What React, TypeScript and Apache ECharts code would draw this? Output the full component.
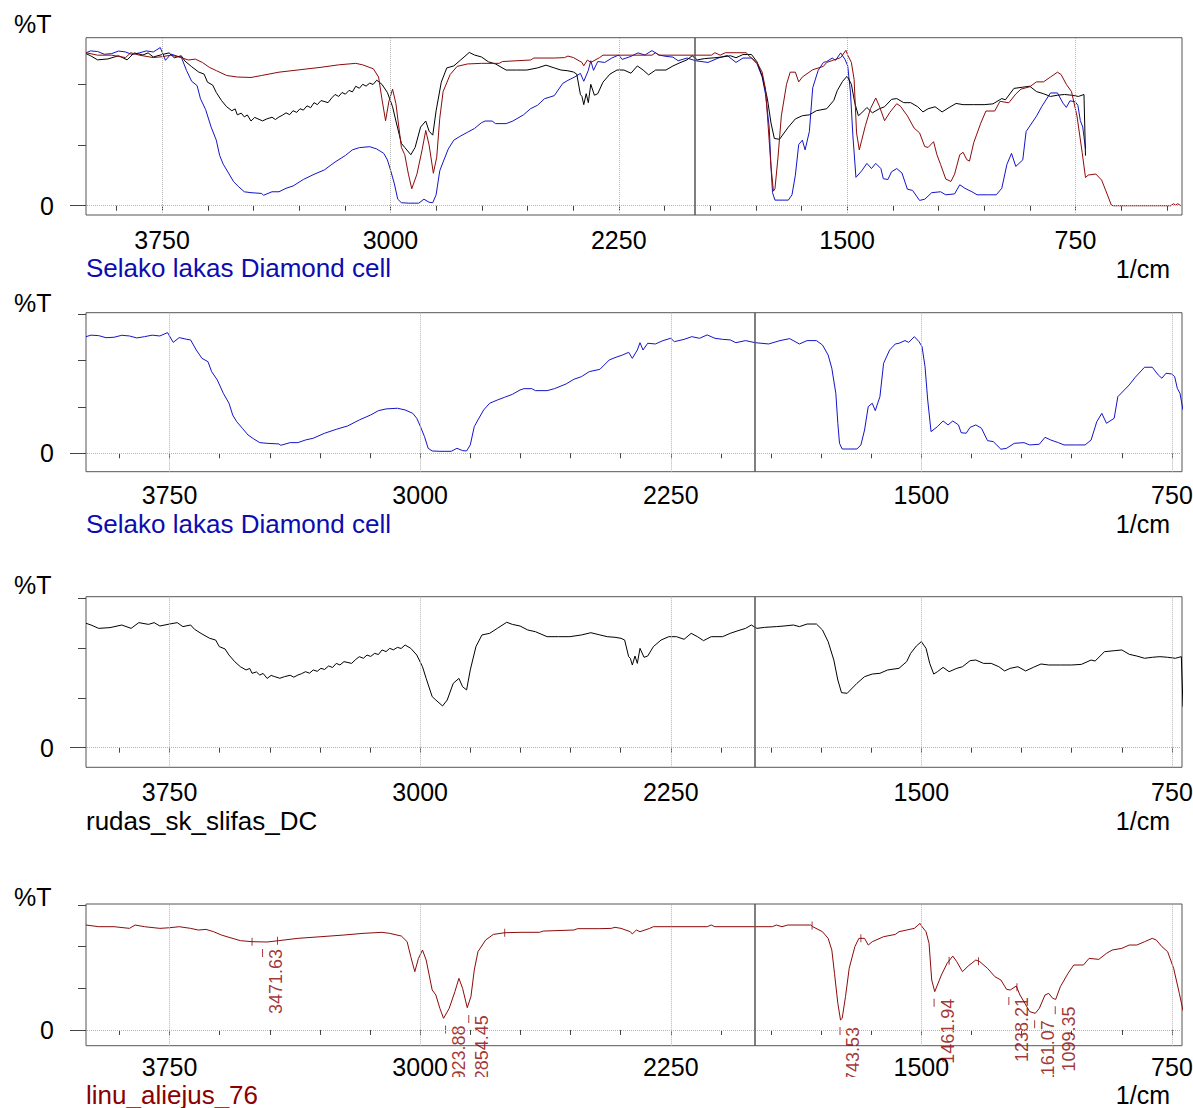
import React, { useEffect, useRef } from 'react';
import * as echarts from 'echarts';

// ---- Spectra: [wavenumber (1/cm), %T] ----
const selakoLakas: [number, number][] = [
  [4000,100.7],[3985,102.0],[3962,101.6],[3940,99.8],[3916,100.2],[3893,101.9],[3870,101.3],[3848,99.6],[3825,100.7],[3802,102.0],
  [3779,101.3],[3756,104.2],[3739,95.8],[3721,99.9],[3698,98.4],
  [3687,97.9],[3670,89.2],[3653,82.0],[3635,79.1],[3624,70.5],[3607,63.3],[3589,51.8],[3572,43.2],[3561,33.1],[3549,27.3],
  [3532,21.6],[3515,15.8],[3498,12.4],[3480,9.2],[3458,8.6],[3423,8.1],[3417,6.9],[3389,9.2],[3366,9.2],[3343,11.5],
  [3320,13.0],[3286,17.3],[3251,20.7],[3217,23.6],[3182,28.8],[3148,33.1],[3125,36.8],[3102,38.3],[3068,38.9],[3045,37.4],
  [3022,34.5],[3010,30.2],[2999,23.0],[2987,14.4],[2976,4.3],[2964,2.0],[2941,1.7],[2907,1.7],[2890,4.3],[2873,2.3],
  [2861,2.0],[2850,7.2],[2838,23.0],[2827,28.8],[2810,37.4],[2792,43.2],[2769,46.0],[2747,48.4],[2724,50.9],[2701,54.7],
  [2689,55.8],[2666,55.8],[2655,54.1],[2620,54.1],[2598,55.8],[2563,59.9],[2540,63.9],[2517,66.2],[2494,70.5],[2462,72.5],
  [2434,80.6],[2417,82.6],[2394,84.9],[2376,87.2],[2365,82.0],[2350,89.2],[2342,95.5],[2333,89.2],[2319,95.0],[2296,94.4],
  [2273,97.3],[2250,99.3],[2239,96.4],[2210,98.4],[2187,100.7],[2164,99.3],[2141,102.2],[2118,99.3],[2095,98.4],[2072,97.9],
  [2055,95.5],[2026,97.3],[1997,95.5],[1957,94.4],[1923,97.3],[1894,99.0],[1865,94.4],[1842,97.3],[1814,97.3],[1796,93.5],
  [1779,84.9],[1768,73.4],[1756,51.8],[1750,25.9],[1745,8.6],[1737,3.7],[1693,3.7],[1681,7.2],[1670,20.1],[1659,40.3],
  [1647,43.2],[1638,36.8],[1624,48.9],[1613,77.7],[1595,89.2],[1578,94.4],[1567,95.0],[1549,97.3],[1538,95.8],[1521,100.7],
  [1507,96.4],[1498,92.1],[1489,74.8],[1481,46.0],[1471,18.7],[1452,23.0],[1435,27.9],[1420,24.5],[1406,27.9],[1389,24.5],
  [1381,17.8],[1366,17.3],[1354,22.4],[1337,24.5],[1320,21.6],[1302,10.9],[1285,10.1],[1262,3.5],[1245,4.3],[1222,8.6],
  [1193,9.2],[1176,7.2],[1147,7.8],[1130,13.8],[1113,11.5],[1090,9.2],[1073,7.2],[1038,7.2],[1010,7.2],[992,11.5],
  [975,27.3],[960,34.5],[946,25.9],[923,30.2],[912,48.9],[878,59.0],[860,65.6],[832,74.3],[809,74.3],[791,67.6],
  [780,64.8],[768,69.1],[751,68.5],[742,66.2],[734,56.1],[726,51.8],[717,37.4],
];

const rudasSkSlifas: [number, number][] = [
  [4000,100.2],[3985,98.8],[3962,96.1],[3928,96.7],[3893,98.8],[3865,96.1],[3842,100.7],[3813,99.3],[3796,100.7],[3779,98.0],
  [3750,99.6],[3727,100.7],[3710,97.5],[3687,98.8],[3675,95.3],[3653,91.6],[3630,88.1],[3612,86.7],[3601,81.4],[3584,79.5],
  [3572,74.6],[3555,69.3],[3538,65.2],[3521,62.6],[3510,63.8],[3503,59.9],[3490,61.0],[3480,58.5],[3470,59.8],[3458,55.8],
  [3446,58.2],[3435,57.2],[3420,55.9],[3406,57.2],[3389,58.3],[3378,56.8],[3366,58.5],[3355,59.6],[3343,61.2],[3331,60.0],
  [3320,62.6],[3308,61.5],[3297,63.9],[3286,63.0],[3274,65.8],[3262,64.6],[3251,67.9],[3240,66.6],[3228,69.3],[3205,67.9],
  [3193,71.0],[3182,73.3],[3170,72.0],[3159,74.6],[3148,73.5],[3136,76.0],[3125,75.0],[3114,78.7],[3102,77.4],[3091,80.0],
  [3080,78.8],[3068,80.8],[3057,79.9],[3045,82.7],[3028,80.0],[3010,74.6],[2993,65.2],[2982,55.8],[2964,41.1],
  [2953,38.4],[2933,33.6],[2919,38.4],[2901,51.8],[2884,55.8],[2873,49.1],[2861,46.5],[2850,62.6],[2833,81.4],[2815,90.8],
  [2792,92.1],[2769,96.1],[2741,101.0],[2724,99.3],[2701,98.0],[2678,94.8],[2655,93.4],[2620,89.4],[2586,89.4],[2552,89.4],
  [2517,90.8],[2489,92.6],[2462,90.8],[2440,89.4],[2417,88.9],[2399,88.1],[2388,86.7],[2376,73.3],[2371,72.0],[2365,66.6],
  [2357,73.8],[2350,67.9],[2342,80.0],[2330,72.8],[2319,73.8],[2302,81.4],[2279,86.7],[2256,89.4],[2233,89.4],[2210,87.3],
  [2189,92.1],[2170,89.4],[2152,86.2],[2129,89.4],[2095,89.4],[2072,92.1],[2049,94.2],[2026,96.1],[2009,98.8],[1992,96.1],
  [1969,96.9],[1934,97.5],[1911,98.0],[1883,98.8],[1865,97.5],[1842,99.6],[1814,99.6],[1796,94.8],[1779,85.4],[1762,70.6],
  [1750,54.5],[1739,44.3],[1722,43.8],[1693,51.8],[1670,57.2],[1647,59.3],[1624,59.9],[1601,62.6],[1567,63.9],[1544,69.3],
  [1532,76.0],[1515,81.9],[1500,85.4],[1486,80.0],[1475,67.9],[1463,59.3],[1452,61.2],[1435,64.7],[1417,61.2],[1394,63.9],
  [1377,65.2],[1354,70.1],[1337,70.6],[1314,67.9],[1291,67.9],[1268,65.2],[1251,61.8],[1234,63.9],[1211,65.2],[1188,61.8],
  [1165,64.7],[1142,67.4],[1119,66.6],[1084,66.6],[1050,66.6],[1021,67.1],[992,70.6],[980,69.8],[952,77.3],[923,78.1],
  [900,78.7],[878,75.2],[855,73.8],[832,72.0],[809,72.8],[786,73.3],[763,72.8],[740,72.0],[722,73.3],[717,33.0],
];

const linuAliejus: [number, number][] = [
  [4000,100.8],[3962,99.2],[3916,99.2],[3870,97.6],[3853,100.8],[3825,99.2],[3779,97.6],[3750,98.2],[3721,99.2],[3687,97.6],
  [3664,96.0],[3641,96.6],[3618,94.4],[3595,91.2],[3572,89.0],[3538,85.8],[3503,84.8],[3458,84.5],[3423,85.8],[3366,88.0],
  [3297,89.6],[3228,91.2],[3171,92.8],[3114,93.8],[3091,92.8],[3056,90.2],[3039,84.8],[3028,70.4],[3016,56.0],[3005,68.8],
  [2993,76.8],[2982,67.2],[2964,38.4],[2953,33.6],[2941,20.8],[2930,11.2],[2913,20.8],[2896,36.8],[2884,49.6],[2873,40.0],
  [2859,21.4],[2848,32.0],[2838,57.6],[2827,75.2],[2804,86.4],[2781,91.8],[2747,93.4],[2701,93.8],[2643,93.8],[2632,95.0],
  [2540,96.0],[2529,97.3],[2462,97.3],[2428,97.6],[2417,98.6],[2399,97.6],[2371,94.4],[2365,92.2],[2353,96.0],[2342,94.4],
  [2313,97.6],[2302,99.2],[2141,99.2],[2129,100.8],[2118,99.2],[1946,99.2],[1934,100.8],[1917,99.2],[1900,100.8],[1831,100.8],
  [1825,99.2],[1796,94.4],[1779,88.0],[1768,76.8],[1760,54.4],[1750,25.6],[1742,9.6],[1737,11.2],[1727,32.0],[1716,59.2],
  [1699,80.0],[1687,88.0],[1670,88.0],[1659,81.6],[1647,84.8],[1613,89.6],[1578,91.8],[1567,94.4],[1544,96.0],[1521,97.6],
  [1504,102.4],[1498,99.2],[1486,94.4],[1477,83.2],[1469,48.0],[1460,36.8],[1452,43.2],[1440,52.8],[1423,64.0],[1406,71.0],
  [1394,65.6],[1377,56.0],[1360,61.4],[1337,67.2],[1325,65.6],[1302,59.2],[1280,51.2],[1262,48.0],[1245,39.0],[1234,38.4],
  [1216,42.2],[1205,33.6],[1193,27.2],[1176,17.6],[1159,16.0],[1147,20.8],[1130,33.6],[1119,35.2],[1107,30.4],[1098,29.4],
  [1084,41.6],[1061,54.4],[1044,62.4],[1015,62.4],[998,68.8],[969,67.8],[946,73.6],[929,76.8],[900,78.4],[878,81.6],
  [855,81.6],[832,84.8],[809,88.0],[797,86.4],[780,80.0],[763,75.2],[745,59.2],[728,35.2],[717,18.6],[708,20.2],
  [683,20.9],[664,16.9],[651,10.3],[632,0.4],[626,0],[576,0],[512,0],[437,0],[428,1.3],[421,0.4],
  [414,1.3],[405,0.2],[400,0],
];

// Peak table of linu_aliejus_76
const peakWavenumbers = [3471.63, 2923.88, 2854.45, 1743.53, 1461.94, 1238.21, 1161.07, 1099.35];
const peakValues = [84.6, 11.0, 21.0, 9.6, 36.8, 38.5, 16.0, 29.4];
// small range markers on the linu_aliejus_76 curve
const rangeMarkers: [number, number][] = [
  [3503, 84.8], [3427, 85.6], [2747, 93.4], [1827, 100.3], [1681, 88.0], [1417, 66.5], [1329, 66.0], [1214, 41.0],
];

// Axis values
const xLabelValues = [3750, 3000, 2250, 1500, 750];
const xTickValues = [3900, 3750, 3600, 3450, 3300, 3150, 3000, 2850, 2700, 2550, 2400, 2250, 2100, 1950, 1800, 1650, 1500, 1350, 1200, 1050, 900, 750, 600, 450];
const yMinorTickValues = [40, 80, 120];
const yZeroValue = [0];
const breakLineValue = 2000;

// ---- styling / layout ----
const FONT = "'Liberation Sans', Arial, Helvetica, sans-serif";
const BLUE = '#1414c8';
const BLUE_TEXT = '#0c0cb0';
const RED = '#8c0a0a';
const RED_TEXT = '#8b0000';
const BLACK = '#000000';

const panels = [
  { top: 37.7, bottom: 215, yMin: -6.1, yMax: 110.7, xMin: 400, labelMargin: 14.5, pctY: 24, nameY: 267.5, unitY: 268.5, name: 'Selako lakas Diamond cell', nameColor: BLUE_TEXT },
  { top: 312.7, bottom: 471.7, yMin: -15.9, yMax: 121.4, xMin: 720, labelMargin: 13, pctY: 302.5, nameY: 524, unitY: 524, name: 'Selako lakas Diamond cell', nameColor: BLUE_TEXT },
  { top: 596.7, bottom: 767.3, yMin: -15.8, yMax: 121.6, xMin: 720, labelMargin: 14.5, pctY: 585, nameY: 821, unitY: 821, name: 'rudas_sk_slifas_DC', nameColor: BLACK },
  { top: 904, bottom: 1045.7, yMin: -15.1, yMax: 121, xMin: 720, labelMargin: 11.5, pctY: 897, nameY: 1094.5, unitY: 1094.5, name: 'linu_aliejus_76', nameColor: RED_TEXT },
];

const panelSeries: { data: [number, number][]; color: string }[][] = [
  [
    { data: selakoLakas, color: BLUE },
    { data: rudasSkSlifas, color: BLACK },
    { data: linuAliejus, color: RED },
  ],
  [{ data: selakoLakas, color: BLUE }],
  [{ data: rudasSkSlifas, color: BLACK }],
  [{ data: linuAliejus, color: RED }],
];

function buildOption() {
  const grid = panels.map((p) => ({
    left: 86, top: p.top, width: 1096, height: p.bottom - p.top,
    containLabel: false, outerBoundsMode: 'none',
    show: true, borderColor: '#555555', borderWidth: 1, backgroundColor: 'transparent',
  }));

  const xAxis = panels.map((p, i) => ({
    type: 'value', gridIndex: i, inverse: true, min: p.xMin, max: 4000,
    axisLine: { show: false },
    axisTick: { show: true, customValues: xTickValues.filter((v) => v >= p.xMin), length: 5, lineStyle: { color: '#444', width: 1 } },
    axisLabel: {
      show: true, customValues: xLabelValues, fontSize: 25, lineHeight: 20, color: '#000', margin: p.labelMargin, fontFamily: FONT,
      formatter: (v: number) => String(v), hideOverlap: false,
    },
    splitLine: { show: false },
  }));

  const yAxis: any[] = [];
  panels.forEach((p, i) => {
    yAxis.push({
      type: 'value', gridIndex: i, min: p.yMin, max: p.yMax, position: 'left',
      axisLine: { show: false },
      axisTick: { show: true, customValues: yMinorTickValues.filter((v) => v <= p.yMax), length: 8, lineStyle: { color: '#444', width: 1 } },
      axisLabel: { show: false },
      splitLine: { show: false },
    });
    yAxis.push({
      type: 'value', gridIndex: i, min: p.yMin, max: p.yMax, position: 'left',
      axisLine: { show: false },
      axisTick: { show: true, customValues: yZeroValue, length: 16, lineStyle: { color: '#444', width: 1 } },
      axisLabel: { show: true, customValues: yZeroValue, fontSize: 25, lineHeight: 20, color: '#000', margin: 32, fontFamily: FONT, formatter: (v: number) => String(v) },
      splitLine: { show: false },
    });
  });

  const series: any[] = [];
  panels.forEach((p, i) => {
    series.push({
      type: 'line', xAxisIndex: i, yAxisIndex: 2 * i, data: [[4000, 0]], symbol: 'none', silent: true, z: 1,
      lineStyle: { width: 0 },
      markLine: {
        silent: true, symbol: ['none', 'none'], label: { show: false }, animation: false,
        data: [
          ...xLabelValues.map((v) => ({ xAxis: v, lineStyle: { color: '#b4b4b4', type: 'dotted', width: 1 } })),
          { yAxis: 0, lineStyle: { color: '#b4b4b4', type: 'dotted', width: 1 } },
          { xAxis: breakLineValue, lineStyle: { color: '#555555', type: 'solid', width: 1.5 } },
        ],
      },
    });
    panelSeries[i].forEach((s) => {
      series.push({
        type: 'line', xAxisIndex: i, yAxisIndex: 2 * i, data: s.data, symbol: 'none', showSymbol: false,
        silent: true, z: 3, clip: true, lineStyle: { color: s.color, width: 1 },
      });
    });
  });

  // peak labels in the last panel
  series.push({
    type: 'scatter', xAxisIndex: 3, yAxisIndex: 6, silent: true, z: 4,
    data: peakWavenumbers.map((w, k) => [w, peakValues[k]]),
    symbol: 'rect', symbolSize: [1, 8], symbolOffset: [0, 11],
    itemStyle: { color: RED },
    label: {
      show: true, formatter: (prm: any) => prm.value[0].toFixed(2), rotate: 90, position: 'inside',
      align: 'right', verticalAlign: 'middle', offset: [4, 13.5], fontSize: 18, lineHeight: 16, color: RED_TEXT, fontFamily: FONT,
    },
  });
  series.push({
    type: 'scatter', xAxisIndex: 3, yAxisIndex: 6, silent: true, z: 4,
    data: rangeMarkers, symbol: 'rect', symbolSize: [1, 8], itemStyle: { color: RED },
  });

  const graphic: any[] = [];
  graphic.push({ type: 'rect', shape: { x: 0, y: 1077, width: 1193, height: 31 }, style: { fill: '#ffffff' }, z: 100 });
  panels.forEach((p) => {
    graphic.push({ type: 'text', x: 14, y: p.pctY, z: 101, style: { text: '%T', fill: '#000', font: `25px ${FONT}`, lineHeight: 20, verticalAlign: 'middle', align: 'left' } });
    graphic.push({ type: 'text', x: 86, y: p.nameY, z: 101, style: { text: p.name, fill: p.nameColor, font: `26px ${FONT}`, lineHeight: 20, verticalAlign: 'middle', align: 'left' } });
    graphic.push({ type: 'text', x: 1170, y: p.unitY, z: 101, style: { text: '1/cm', fill: '#000', font: `25px ${FONT}`, lineHeight: 20, verticalAlign: 'middle', align: 'right' } });
  });

  return {
    animation: false,
    backgroundColor: '#ffffff',
    grid, xAxis, yAxis, series, graphic,
  };
}

export default function App() {
  const ref = useRef<HTMLDivElement>(null);
  useEffect(() => {
    if (!ref.current) return;
    const chart = echarts.init(ref.current, null, { renderer: 'svg' });
    chart.setOption(buildOption() as any);
    return () => chart.dispose();
  }, []);
  return <div ref={ref} style={{ position: 'absolute', left: 0, top: 0, width: 1193, height: 1108, background: '#fff' }} />;
}
